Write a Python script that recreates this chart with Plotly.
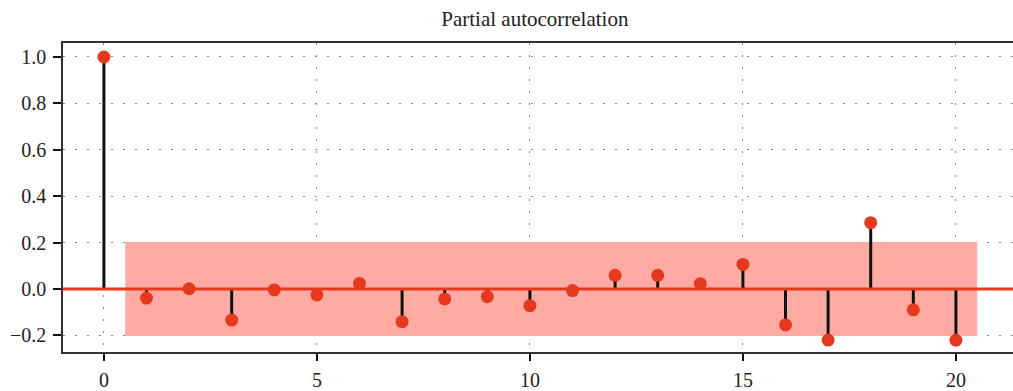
import plotly.graph_objects as go

# Partial autocorrelation values by lag
lags = list(range(0, 21))
pacf = [1.0, -0.039, 0.001, -0.134, -0.004, -0.026, 0.024, -0.141, -0.043, -0.033,
        -0.072, -0.007, 0.059, 0.059, 0.023, 0.106, -0.155, -0.220, 0.286, -0.090, -0.221]

# Confidence band (lags 1..20, half-lag padding either side)
conf_level = 0.203
band_start, band_end = 0.5, 20.5

x_range = [-0.96, 21.34]
y_range = [-0.2716, 1.0603]

red = "#E5391E"
pink = "#FFABA4"
serif = "Liberation Serif, Times New Roman, serif"

fig = go.Figure()

# confidence region
fig.add_trace(go.Scatter(
    x=[band_start, band_end, band_end, band_start, band_start],
    y=[conf_level, conf_level, -conf_level, -conf_level, conf_level],
    fill="toself", fillcolor=pink, mode="none", hoverinfo="skip", showlegend=False,
))

# stems
sx, sy = [], []
for lag, v in zip(lags, pacf):
    sx += [lag, lag, None]
    sy += [0, v, None]
fig.add_trace(go.Scatter(x=sx, y=sy, mode="lines",
                         line=dict(color="#111111", width=3), showlegend=False))

# zero line
fig.add_trace(go.Scatter(x=x_range, y=[0, 0], mode="lines",
                         line=dict(color=red, width=3), showlegend=False))

# markers
fig.add_trace(go.Scatter(x=lags, y=pacf, mode="markers",
                         marker=dict(color=red, size=13), showlegend=False))

fig.update_layout(
    width=1013, height=391,
    margin=dict(l=63, r=0, t=43, b=39, autoexpand=False),
    paper_bgcolor="white", plot_bgcolor="white",
    title=dict(text="Partial autocorrelation", x=0.528, xanchor="center",
               y=1 - 19 / 391, yanchor="middle",
               font=dict(family=serif, size=21, color="#222222")),
    font=dict(family=serif, size=20, color="#222222"),
)

fig.update_xaxes(
    range=x_range, tickvals=[0, 5, 10, 15, 20],
    showline=True, linecolor="#333333", linewidth=1.5, mirror=True,
    ticks="outside", ticklen=7, tickwidth=2, tickcolor="#111111",
    ticklabelstandoff=2, automargin=False,
    showgrid=True, gridcolor="#8a8a8a", gridwidth=1, griddash="2px,10px",
    zeroline=False,
)
fig.update_yaxes(
    range=y_range, tickvals=[-0.2, 0.0, 0.2, 0.4, 0.6, 0.8, 1.0], tickformat=".1f",
    showline=True, linecolor="#333333", linewidth=1.5, automargin=False,
    ticks="outside", ticklen=8, tickwidth=2, tickcolor="#111111",
    ticklabelstandoff=3,
    showgrid=True, gridcolor="#8a8a8a", gridwidth=1, griddash="2px,10px",
    zeroline=False,
)

fig.write_html("out.html")
